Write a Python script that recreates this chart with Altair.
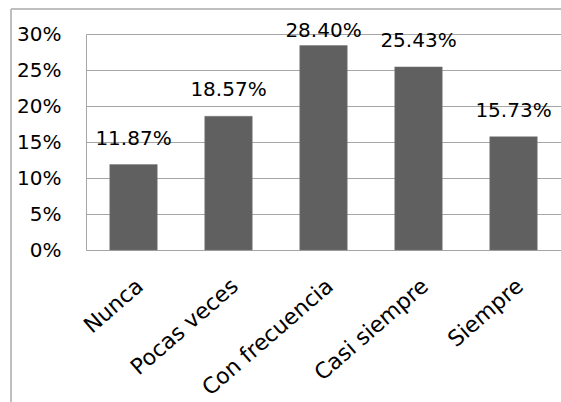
import altair as alt
import pandas as pd

categories = ["Nunca", "Pocas veces", "Con frecuencia", "Casi siempre", "Siempre"]
shares = [0.1187, 0.1857, 0.2840, 0.2543, 0.1573]
y_ticks = [0, 0.05, 0.10, 0.15, 0.20, 0.25, 0.30]

df = pd.DataFrame({"categoria": categories, "valor": shares})

FONT = "DejaVu Sans"
GRID = "#a6a6a6"
SIZE = 20

x_axis = alt.Axis(
    title=None,
    labelAngle=-41,
    labelAlign="right",
    labelBaseline="top",
    labelFont=FONT,
    labelFontSize=22,
    labelColor="#000000",
    labelPadding=25,
    labelOffset=0,
    labelOverlap=False,
    ticks=False,
    domainColor=GRID,
    labelLimit=300,
)
y_axis = alt.Axis(
    title=None,
    values=y_ticks,
    format=".0%",
    labelFont=FONT,
    labelFontSize=SIZE,
    labelColor="#000000",
    labelPadding=25,
    labelOverlap=False,
    ticks=False,
    domainColor=GRID,
    gridColor=GRID,
    grid=True,
)
x_scale = alt.Scale(paddingInner=0.5, paddingOuter=0.25)
y_scale = alt.Scale(domain=[0, 0.30], nice=False)

base = alt.Chart(df)

bars = base.mark_bar(color="#606060", stroke="#7a7a7a", strokeWidth=0.5).encode(
    x=alt.X("categoria:N", sort=categories, scale=x_scale, axis=x_axis),
    y=alt.Y("valor:Q", scale=y_scale, axis=y_axis),
)

# value labels sit above each bar, kept inside the plot top
labels = base.transform_calculate(
    pos="min(datum.valor + 0.0278, 0.2958)"
).mark_text(
    font=FONT, fontSize=SIZE, color="#000000", baseline="alphabetic"
).encode(
    x=alt.X("categoria:N", sort=categories, scale=x_scale, axis=x_axis),
    y=alt.Y("pos:Q", scale=y_scale, axis=y_axis),
    text=alt.Text("valor:Q", format=".2%"),
)

# outer frame of the chart area
frame_left = base.mark_rule(color="#bfbfbf", strokeWidth=1.5).encode(
    x=alt.value(-75), y=alt.value(-25), y2=alt.value(400)
)
frame_top = base.mark_rule(color="#bfbfbf", strokeWidth=1.5).encode(
    x=alt.value(-75), x2=alt.value(500), y=alt.value(-25)
)

chart = (
    alt.layer(bars, labels, frame_left, frame_top)
    .properties(
        width=475,
        height=216,
        padding={"left": 86, "top": 34, "right": 0, "bottom": 152},
        autosize=alt.AutoSizeParams(type="none"),
        background="#ffffff",
    )
    .configure_view(stroke=None)
)

chart.save("out.html", embed_options={"renderer": "svg", "actions": False})
